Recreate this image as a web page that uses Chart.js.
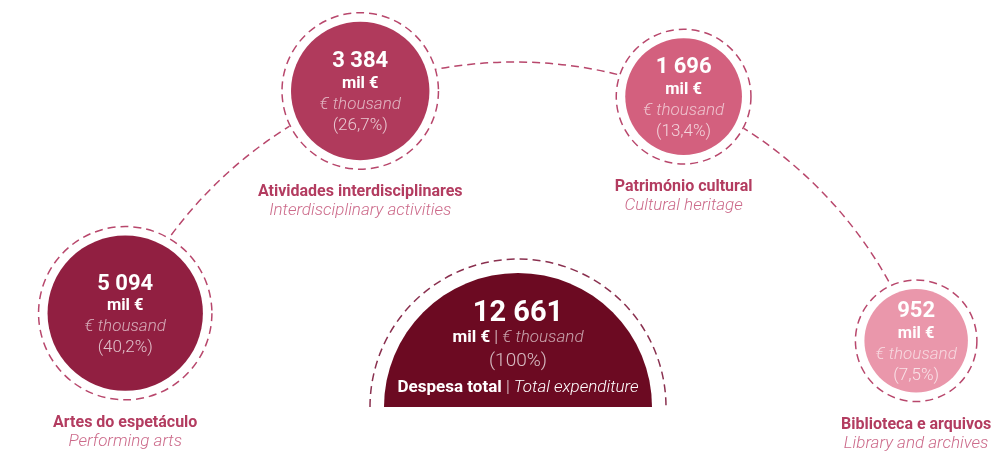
<!DOCTYPE html>
<html>
<head>
<meta charset="utf-8">
<script src="https://cdn.jsdelivr.net/npm/chart.js@4/dist/chart.umd.min.js"></script>
<style>
  html, body { margin: 0; padding: 0; background: #ffffff; }
  #wrap { width: 998px; height: 452px; position: relative; }
</style>
</head>
<body>
<div id="wrap"><canvas id="c"></canvas></div>
<script>
// ---------- DATA ----------
const categories   = ['Artes do espetáculo', 'Atividades interdisciplinares', 'Património cultural', 'Biblioteca e arquivos'];
const categoriesEn = ['Performing arts', 'Interdisciplinary activities', 'Cultural heritage', 'Library and archives'];
const values = [5094, 3384, 1696, 952];          // mil € | € thousand
const shares = [40.2, 26.7, 13.4, 7.5];          // %
const totalValue = 12661;
const totalShare = 100;
const totalLabel = 'Despesa total';
const totalLabelEn = 'Total expenditure';
const unitPt = 'mil €';
const unitEn = '€ thousand';

// ---------- LAYOUT / STYLE ----------
const W = 998, H = 452;
const arcCenter = { x: 515, y: 490 };
const arcRadius = 428;
const arcAngles = [155.6, 111.2, 66.8, 20.4];     // degrees along the arc
const totalPos = { x: 518, y: 407 };
const totalRadius = 134;
const totalRingGap = 14;
const ringGap = 9;
const bubbleRadius = v => 32 + 0.64 * Math.sqrt(v);
const fills = ['#911f41', '#b03a5c', '#d3607e', '#ea97ab'];
const totalFill = '#6c0a22';
const ringColor = '#b8476c';
const totalRingColor = '#8a304f';
const titleColor = '#b33c60';
const subColor = '#cc6a8a';
const FONT = 'Roboto, "Open Sans", sans-serif';

const fmtNum = n => String(n).replace(/\B(?=(\d{3})+(?!\d))/g, ' ');
const fmtPct = p => '(' + (Number.isInteger(p) ? String(p) : p.toFixed(1).replace('.', ',')) + '%)';

const rad = d => d * Math.PI / 180;
const bubbleData = values.map((v, i) => ({
  x: arcCenter.x + arcRadius * Math.cos(rad(arcAngles[i])),
  y: arcCenter.y - arcRadius * Math.sin(rad(arcAngles[i])),
  r: bubbleRadius(v)
}));

function drawSegs(ctx, segs, cx, y) {
  let total = 0;
  segs.forEach(s => { ctx.font = s.font; s.w = ctx.measureText(s.text).width; total += s.w; });
  let x = cx - total / 2;
  ctx.textAlign = 'left';
  segs.forEach(s => { ctx.font = s.font; ctx.fillStyle = s.color; ctx.fillText(s.text, x, y); x += s.w; });
}

const infographic = {
  id: 'infographic',
  beforeDatasetsDraw(chart) {
    const ctx = chart.ctx;
    const xs = chart.scales.x, ys = chart.scales.y;
    const cx = xs.getPixelForValue(arcCenter.x), cy = ys.getPixelForValue(arcCenter.y);
    const R = xs.getPixelForValue(arcCenter.x + arcRadius) - cx;
    ctx.save();
    // connecting dashed arc
    ctx.strokeStyle = ringColor;
    ctx.lineWidth = 1.5;
    ctx.setLineDash([8, 5]);
    ctx.beginPath();
    ctx.arc(cx, cy, R, -rad(arcAngles[0]), -rad(arcAngles[arcAngles.length - 1]), false);
    ctx.stroke();
    // bubbles: white gap + dashed ring
    const meta = chart.getDatasetMeta(0);
    meta.data.forEach((el, i) => {
      const rr = bubbleData[i].r + ringGap;
      ctx.setLineDash([]);
      ctx.fillStyle = '#ffffff';
      ctx.beginPath(); ctx.arc(el.x, el.y, rr + 1, 0, Math.PI * 2); ctx.fill();
      ctx.setLineDash([8, 5]);
      ctx.strokeStyle = ringColor;
      ctx.beginPath(); ctx.arc(el.x, el.y, rr, 0, Math.PI * 2); ctx.stroke();
    });
    // total ring (half)
    const tm = chart.getDatasetMeta(1).data[0];
    ctx.save();
    ctx.beginPath(); ctx.rect(0, 0, chart.width, tm.y); ctx.clip();
    ctx.strokeStyle = totalRingColor;
    ctx.setLineDash([8, 5]);
    ctx.beginPath(); ctx.arc(tm.x, tm.y, totalRadius + totalRingGap, Math.PI, 2 * Math.PI); ctx.stroke();
    ctx.restore();
    ctx.restore();
  },
  afterDatasetsDraw(chart) {
    const ctx = chart.ctx;
    ctx.save();
    ctx.textBaseline = 'middle';
    ctx.textAlign = 'center';
    const meta = chart.getDatasetMeta(0);
    meta.data.forEach((el, i) => {
      const x = el.x, y = el.y;
      ctx.textAlign = 'center';
      ctx.fillStyle = '#ffffff';
      ctx.font = 'bold 22px ' + FONT;
      ctx.fillText(fmtNum(values[i]), x, y - 29);
      ctx.font = 'bold 16.5px ' + FONT;
      ctx.fillText(unitPt, x, y - 7);
      ctx.fillStyle = 'rgba(255,255,255,0.62)';
      ctx.font = 'italic 300 17px ' + FONT;
      ctx.fillText(unitEn, x, y + 14);
      ctx.fillStyle = 'rgba(255,255,255,0.72)';
      ctx.font = '300 17px ' + FONT;
      ctx.fillText(fmtPct(shares[i]), x, y + 35);
      // labels under bubble
      const bottom = y + bubbleData[i].r + ringGap;
      ctx.fillStyle = titleColor;
      ctx.font = 'bold 16px ' + FONT;
      ctx.fillText(categories[i], x, bottom + 23);
      ctx.fillStyle = subColor;
      ctx.font = 'italic 300 17px ' + FONT;
      ctx.fillText(categoriesEn[i], x, bottom + 42);
    });
    // total
    const tm = chart.getDatasetMeta(1).data[0];
    const tx = tm.x, ty = tm.y;
    ctx.textAlign = 'center';
    ctx.fillStyle = '#ffffff';
    ctx.font = 'bold 29px ' + FONT;
    ctx.fillText(fmtNum(totalValue), tx, ty - 93);
    drawSegs(ctx, [
      { text: unitPt, font: 'bold 17px ' + FONT, color: '#ffffff' },
      { text: ' | ', font: '300 17px ' + FONT, color: 'rgba(255,255,255,0.8)' },
      { text: unitEn, font: 'italic 300 17px ' + FONT, color: 'rgba(255,255,255,0.62)' }
    ], tx, ty - 69);
    ctx.textAlign = 'center';
    ctx.fillStyle = 'rgba(255,255,255,0.72)';
    ctx.font = '300 19px ' + FONT;
    ctx.fillText(fmtPct(totalShare), tx, ty - 46);
    drawSegs(ctx, [
      { text: totalLabel, font: 'bold 17px ' + FONT, color: '#ffffff' },
      { text: ' | ', font: '300 17px ' + FONT, color: 'rgba(255,255,255,0.8)' },
      { text: totalLabelEn, font: 'italic 300 17px ' + FONT, color: '#ffffff' }
    ], tx, ty - 19);
    ctx.restore();
  }
};

new Chart(document.getElementById('c'), {
  type: 'bubble',
  data: {
    datasets: [
      {
        label: 'Despesa',
        data: bubbleData,
        backgroundColor: fills,
        borderWidth: 0,
        clip: false
      },
      {
        label: totalLabel,
        data: [{ x: totalPos.x, y: totalPos.y, r: totalRadius }],
        backgroundColor: totalFill,
        borderWidth: 0,
        clip: { left: false, top: false, right: false, bottom: -(H - totalPos.y) }
      }
    ]
  },
  options: {
    responsive: true,
    maintainAspectRatio: false,
    animation: false,
    events: [],
    layout: { padding: 0, autoPadding: false },
    plugins: { legend: { display: false }, tooltip: { enabled: false } },
    scales: {
      x: { type: 'linear', min: 0, max: W, display: false },
      y: { type: 'linear', min: 0, max: H, reverse: true, display: false }
    }
  },
  plugins: [infographic]
});
</script>
</body>
</html>
